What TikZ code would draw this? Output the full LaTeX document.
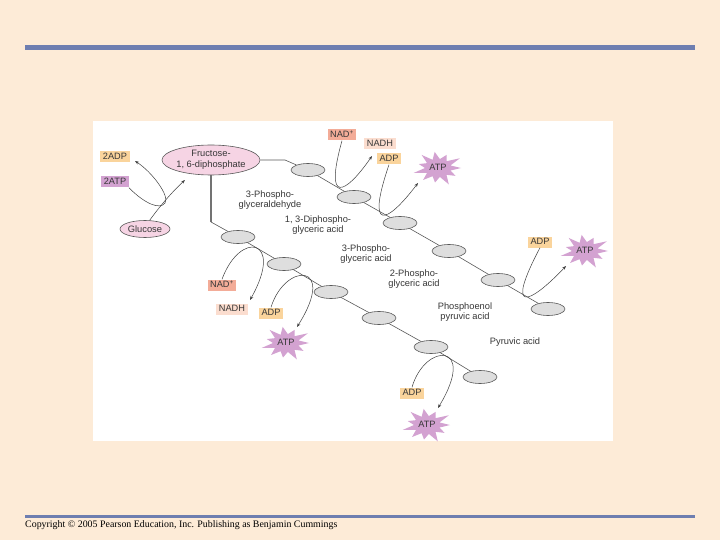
\documentclass[tikz,border=0pt]{standalone}
\usepackage{fontspec}
\setmainfont{Liberation Sans}
\newfontfamily\copyfont{Liberation Serif}
\usetikzlibrary{shapes.geometric,arrows.meta}

\definecolor{slidebg}{RGB}{253,235,215}
\definecolor{slideline}{RGB}{110,126,176}
\definecolor{molgray}{RGB}{222,222,222}
\definecolor{sugarpink}{RGB}{246,212,228}
\definecolor{adpcol}{RGB}{250,212,156}
\definecolor{nadcol}{RGB}{243,172,152}
\definecolor{nadhcol}{RGB}{251,221,207}
\definecolor{atpcol}{RGB}{211,162,209}
\definecolor{txtgray}{RGB}{55,55,55}

\tikzset{
  mol/.style={ellipse, draw=black!65, fill=molgray, line width=0.6pt,
    minimum width=34pt, minimum height=13pt, inner sep=0pt},
  sugar/.style={ellipse, draw=black!65, fill=sugarpink, line width=0.6pt,
    align=center, inner sep=0pt, text=txtgray, font=\fontsize{9.3}{10.5}\selectfont},
  cofac/.style={rectangle, inner xsep=2.5pt, inner ysep=1.8pt, text height=6.6pt,
    text depth=0.8pt, text=txtgray, font=\fontsize{9.2}{10}\selectfont},
  lbl/.style={align=center, inner sep=0pt, text=txtgray, font=\fontsize{9.3}{10.8}\selectfont},
  chainline/.style={draw=black!65, line width=0.6pt},
  stem/.style={draw=black!55, line width=2.4pt},
  rxn/.style={draw=black!75, line width=0.5pt, -{Stealth[length=4pt,width=3pt]}}
}

\begin{document}
\begin{tikzpicture}[x=1pt, y=-1pt]
  % slide background and rules
  \fill[slidebg] (0,0) rectangle (720,540);
  \useasboundingbox (0,0) rectangle (720,540);
  \draw[slideline, line width=5pt] (25,48) -- (695,48);
  \draw[slideline, line width=3pt] (25,516) -- (695,516);
  \node[anchor=base west, inner sep=0pt, font=\copyfont\fontsize{9.9}{11}\selectfont] (copy) at (25,527)
    {Copyright \textcopyright{} 2005 Pearson Education, Inc. Publishing as Benjamin Cummings};

  % white figure panel
  \fill[white] (93,121) rectangle (613,441);

  % sugars
  \node[sugar, minimum width=90pt, minimum height=30pt] (fru) at (211,160) {Fructose-\\1, 6-diphosphate};
  \node[sugar, minimum width=50pt, minimum height=17pt] (glu) at (145,229) {Glucose};

  % the two rows of intermediates
  \foreach \n/\x/\y in {
        u1/308/170, u2/354/197, u3/400/223, u4/449/251, u5/498/280, u6/548/309,
        l1/238/237, l2/284/264, l3/331/292, l4/379/318, l5/431/347, l6/480/377
  } {
      \node[mol] (\n) at (\x,\y) {};
  }
  \foreach \a/\b in {u1/u2, u2/u3, u3/u4, u4/u5, u5/u6, l1/l2, l2/l3, l3/l4, l4/l5, l5/l6} {
      \draw[chainline] (\a) -- (\b);
  }

  % split of fructose into both rows
  \coordinate (bendU) at (285,160);
  \coordinate (bendL) at (211,222);
  \draw[chainline] (fru.east) -- (bendU) -- (u1);
  \draw[stem] (fru.south) -- (bendL);
  \draw[chainline] (bendL) -- (l1);

  % compound names
  \node[lbl] (gap) at (270,200) {3-Phospho-\\glyceraldehyde};
  \node[lbl] (bpg) at (318,225) {1, 3-Diphospho-\\glyceric acid};
  \node[lbl] (pga) at (366,254) {3-Phospho-\\glyceric acid};
  \node[lbl] (pgb) at (414,279) {2-Phospho-\\glyceric acid};
  \node[lbl] (pep) at (465,312) {Phosphoenol\\pyruvic acid};
  \node[lbl] (pyr) at (515,342) {Pyruvic acid};

  % cofactor boxes
  \node[cofac, fill=adpcol] (adp2) at (115,157) {2ADP};
  \node[cofac, fill=atpcol] (atp2) at (115,182) {2ATP};
  \node[cofac, fill=nadcol] (nadA) at (342,135) {NAD\textsuperscript{+}};
  \node[cofac, fill=nadhcol] (nadhA) at (380,144) {NADH};
  \node[cofac, fill=adpcol] (adpA) at (389,159) {ADP};
  \node[cofac, fill=adpcol] (adpB) at (540,242) {ADP};
  \node[cofac, fill=nadcol] (nadB) at (222,285) {NAD\textsuperscript{+}};
  \node[cofac, fill=nadhcol] (nadhB) at (232,309) {NADH};
  \node[cofac, fill=adpcol] (adpC) at (271,313) {ADP};
  \node[cofac, fill=adpcol] (adpD) at (412,393) {ADP};

  % ATP bursts
  \foreach \s/\x/\y in {atpA/438/168, atpB/585/251, atpC/286/343, atpD/427/425} {
      \fill[atpcol] plot[samples at={0,...,21}, variable=\k]
        ({\x+(13+mod(\k+1,2)*(10+3*sin(\k*113)))*cos(\k*360/22)},
         {\y+(9+mod(\k+1,2)*(7+2*sin(\k*113)))*sin(\k*360/22)}) -- cycle;
      \node[cofac] (\s) at (\x,\y) {ATP};
  }

  % arrow ends
  \coordinate (tipA) at (372,156);
  \coordinate (tipB) at (418,183);
  \coordinate (tipC) at (566,266);
  \coordinate (tipD) at (250,300);
  \coordinate (tipE) at (297,327);
  \coordinate (tipF) at (438,408);
  \coordinate (tipG) at (185,180);
  \coordinate (tipH) at (135,161);
  \coordinate (turnH) at (165,203);

  % glucose to fructose, 2ATP to 2ADP
  \draw[rxn] (glu.62) .. controls (160,206) and (172,192) .. (tipG);
  \draw[draw=black!75, line width=0.5pt] (atp2.south east) .. controls (145,204) and (160,210) .. (turnH);
  \draw[rxn] (turnH) .. controls (170,196) and (152,172) .. (tipH);

  % side reactions on the upper row
  \draw[rxn] (nadA.south) .. controls (324,205) and (345,195) .. (tipA);
  \draw[rxn] (adpA.south) .. controls (366,232) and (386,225) .. (tipB);
  \draw[rxn] (adpB.south) .. controls (505,314) and (528,306) .. (tipC);

  % side reactions on the lower row
  \draw[rxn] (nadB.north) .. controls (240,230) and (285,238) .. (tipD);
  \draw[rxn] (adpC.north) .. controls (285,262) and (338,262) .. (tipE);
  \draw[rxn] (adpD.north) .. controls (425,342) and (478,342) .. (tipF);
\end{tikzpicture}
\end{document}
